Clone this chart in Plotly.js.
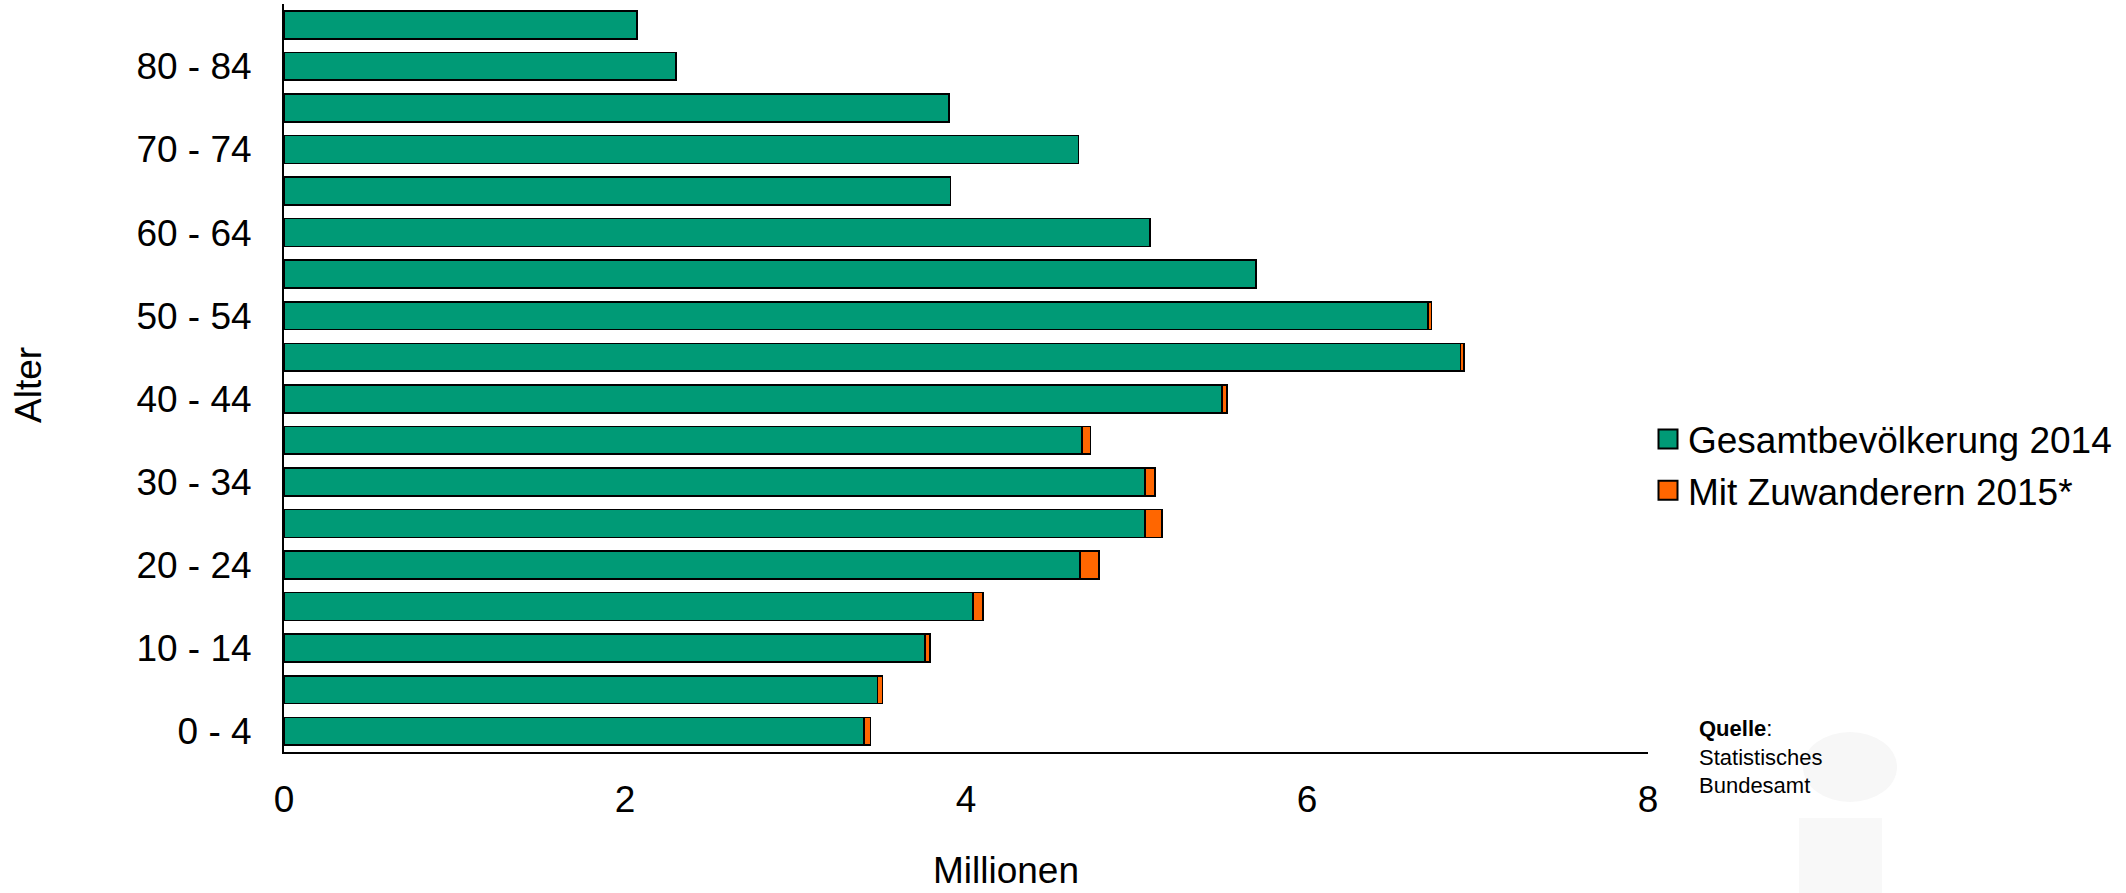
<!DOCTYPE html>
<html>
<head>
<meta charset="utf-8">
<script src="https://cdn.plot.ly/plotly-3.0.1.min.js"></script>
<style>html,body{margin:0;padding:0;background:#fff;}#chart{width:2126px;height:893px;}</style>
</head>
<body>
<div id="chart"></div>
<script>
// Age groups (bottom to top)
const ageGroups = ['0 - 4','5 - 9','10 - 14','15 - 19','20 - 24','25 - 29','30 - 34','35 - 39','40 - 44','45 - 49','50 - 54','55 - 59','60 - 64','65 - 69','70 - 74','75 - 79','80 - 84','85 - 89'];
// Gesamtbevölkerung 2014 (Millionen)
const bev2014 = [3.40, 3.48, 3.76, 4.04, 4.67, 5.05, 5.05, 4.68, 5.50, 6.90, 6.71, 5.70, 5.08, 3.91, 4.66, 3.90, 2.30, 2.07];
// Zusätzlich mit Zuwanderern 2015 (Millionen, Zuwachs)
const zuwanderer2015 = [0.04, 0.03, 0.03, 0.06, 0.11, 0.10, 0.06, 0.05, 0.03, 0.02, 0.02, 0, 0, 0, 0, 0, 0, 0];
// Shown tick labels
const yTickLabels = ['0 - 4','10 - 14','20 - 24','30 - 34','40 - 44','50 - 54','60 - 64','70 - 74','80 - 84'];
const xTicks = [0, 2, 4, 6, 8];

const FONT = '"Liberation Sans", Arial, sans-serif';
const W = 2126, H = 893;
const L = 284, R = 1648, T = 4, B = 752;
const px2x = p => (p - L) / (R - L);
const py2y = p => (B - p) / (B - T);

const traces = [
  {
    type: 'bar', orientation: 'h', name: 'Gesamtbevölkerung 2014',
    y: ageGroups, x: bev2014,
    marker: {color: '#009a76', line: {color: '#000000', width: 1.6}},
    hoverinfo: 'x+y'
  },
  {
    type: 'bar', orientation: 'h', name: 'Mit Zuwanderern 2015*',
    y: ageGroups, x: zuwanderer2015,
    marker: {color: '#ff6600', line: {color: '#000000', width: 1.6}},
    hoverinfo: 'x+y'
  }
];

const layout = {
  width: W, height: H,
  margin: {l: L, r: W - R, t: T, b: H - B, pad: 0},
  paper_bgcolor: '#ffffff', plot_bgcolor: 'rgba(0,0,0,0)',
  font: {family: FONT, size: 37, color: '#000000'},
  barmode: 'stack', bargap: 0.33,
  showlegend: true,
  legend: {
    x: px2x(1648), xanchor: 'left', y: py2y(465), yanchor: 'middle',
    font: {family: FONT, size: 37, color: '#000'},
    bgcolor: 'rgba(0,0,0,0)', tracegroupgap: 0, itemwidth: 30,
    traceorder: 'normal'
  },
  xaxis: {
    range: [0, 8], tickvals: xTicks, ticktext: xTicks.map(String),
    showgrid: false, zeroline: false, showline: true, linecolor: '#000', linewidth: 2,
    ticks: '', ticklabelstandoff: 14,
    tickfont: {family: FONT, size: 37, color: '#000'},
    fixedrange: true
  },
  yaxis: {
    type: 'category', categoryorder: 'array', categoryarray: ageGroups,
    range: [-0.5, 17.5],
    tickvals: yTickLabels, ticktext: yTickLabels,
    showgrid: false, zeroline: false, showline: true, linecolor: '#000', linewidth: 2,
    ticks: '', ticklabelstandoff: 23,
    tickfont: {family: FONT, size: 37, color: '#000'},
    fixedrange: true
  },
  annotations: [
    {text: 'Millionen', xref: 'paper', yref: 'paper', x: px2x(1006), y: py2y(870),
     xanchor: 'center', yanchor: 'middle', showarrow: false,
     font: {family: FONT, size: 37, color: '#000'}},
    {text: 'Alter', xref: 'paper', yref: 'paper', x: px2x(29), y: py2y(385), textangle: -90,
     xanchor: 'center', yanchor: 'middle', showarrow: false,
     font: {family: FONT, size: 37, color: '#000'}},
    {text: '<b>Quelle</b>:<br>Statistisches<br>Bundesamt', xref: 'paper', yref: 'paper',
     x: px2x(1697), y: py2y(757), xanchor: 'left', yanchor: 'middle', align: 'left', showarrow: false,
     font: {family: FONT, size: 22, color: '#000'}}
  ],
  shapes: [
    {type: 'circle', xref: 'paper', yref: 'paper', layer: 'below',
     x0: px2x(1803), x1: px2x(1897), y0: py2y(802), y1: py2y(732),
     fillcolor: '#f7f7f7', line: {width: 0}},
    {type: 'rect', xref: 'paper', yref: 'paper', layer: 'below',
     x0: px2x(1799), x1: px2x(1882), y0: py2y(893), y1: py2y(818),
     fillcolor: '#f8f8f8', line: {width: 0}}
  ]
};

function enlargeLegendSymbols(gd) {
  gd.querySelectorAll('.legend .legendpoints path').forEach(p => {
    p.setAttribute('d', 'M9.5,9.5H-9.5V-9.5H9.5Z');
    p.style.strokeWidth = '2px';
  });
}

Plotly.newPlot('chart', traces, layout, {displayModeBar: false, responsive: false}).then(gd => {
  enlargeLegendSymbols(gd);
  gd.on('plotly_afterplot', () => enlargeLegendSymbols(gd));
});
</script>
</body>
</html>
